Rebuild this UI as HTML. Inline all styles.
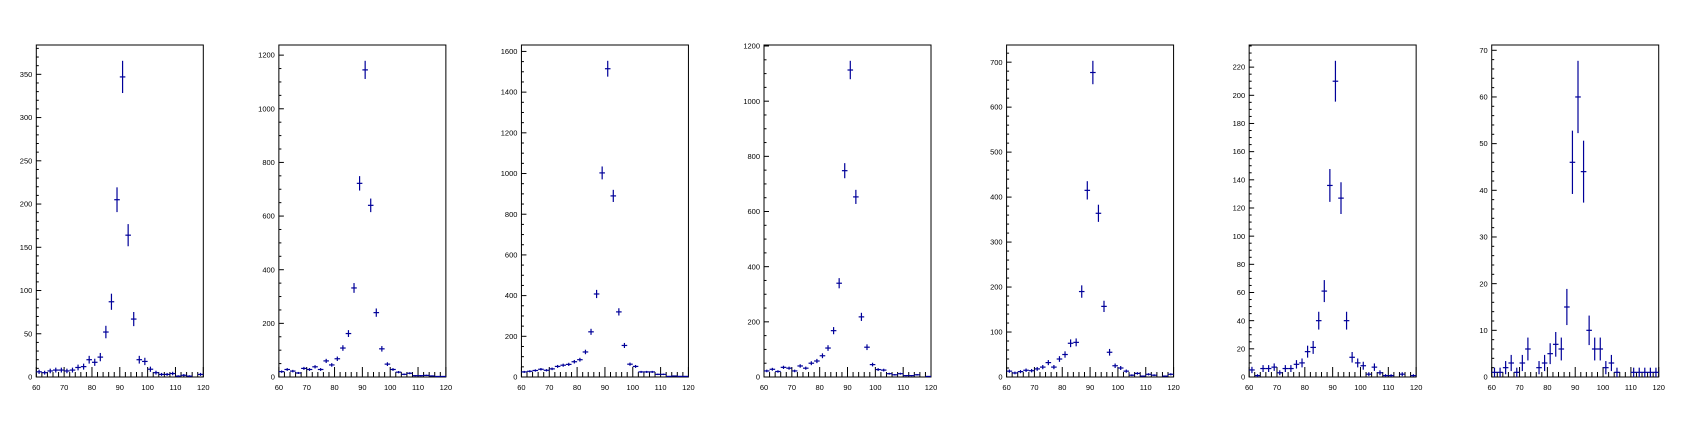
<!DOCTYPE html>
<html><head><meta charset="utf-8"><style>
html,body{margin:0;padding:0;background:#fff;}
svg{display:block;}
text{font-family:"Liberation Sans",sans-serif;font-size:7.5px;fill:#000;}
</style></head><body>
<svg id="c" width="1698" height="424" viewBox="0 0 1698 424"></svg>
<script>
const binCenters=[61,63,65,67,69,71,73,75,77,79,81,83,85,87,89,91,93,95,97,99,101,103,105,107,109,111,113,115,117,119];
const h1=[6,5,7,8,8,7,8,11,12,20,17,23,52,87,205,347,164,67,20,18,9,5,3,3,4,1,2,1,0,3];
const h2=[20,28,22,15,32,28,38,28,60,45,68,108,162,332,722,1145,640,240,105,48,28,18,10,14,5,5,6,4,2,2];
const h3=[25,28,32,38,33,40,52,58,62,75,85,123,222,408,1003,1515,890,320,155,63,52,25,25,25,13,13,3,5,3,3];
const h4=[22,28,20,35,32,22,40,32,50,58,77,105,168,340,748,1113,653,218,108,45,27,25,12,8,12,5,5,8,0,2];
const h5=[13,9,12,15,14,18,22,32,22,40,50,75,77,190,415,677,364,157,55,25,20,13,4,8,2,6,4,0,2,6];
const h6=[5,1,6,6,7,3,6,6,9,10,18,21,40,61,136,210,127,40,14,10,8,2,7,3,1,1,0,2,0,1];
const h7=[1,1,2,3,1,3,6,0,2,3,5,7,6,15,46,60,44,10,6,6,2,3,1,0,0,1,1,1,1,1];
const yMajor=[50,200,200,200,100,20,10];
const yMinorDiv=[5,4,4,4,5,4,5];
const xTickLabels=[60,70,80,90,100,110,120];
const hists=[h1,h2,h3,h4,h5,h6,h7];

const NS="http://www.w3.org/2000/svg";
const svgEl=document.getElementById('c');
function mk(tag,attrs,parent){const e=document.createElementNS(NS,tag);for(const k in attrs)e.setAttribute(k,attrs[k]);parent.appendChild(e);return e;}
const frameTop=45,frameBot=377,W=167,pitch=242.57,x0=36.3;
hists.forEach((h,i)=>{
  const g=mk('g',{},svgEl);
  
  
  const L=x0+i*pitch;
  const mx=Math.max(...h);
  const ymax=(mx+Math.sqrt(mx))*1.05;
  const xs=v=>L+(v-60)/60*W;
  const ys=v=>frameBot-v/ymax*(frameBot-frameTop);
  const fr=mk('rect',{x:L,y:frameTop,width:W,height:frameBot-frameTop,fill:'none',stroke:'#000','stroke-width':1},g);
  
  
  for(let v=60;v<=120;v+=2){
    const maj=(v%10===0);
    mk('line',{x1:xs(v),x2:xs(v),y1:frameBot,y2:frameBot-(maj?10:5),stroke:'#000','stroke-width':1},g);
  }
  xTickLabels.forEach(v=>{
    const t=mk('text',{x:xs(v),y:frameBot+13,'text-anchor':'middle'},g);
    t.textContent=v;
    
    
  });
  const M=yMajor[i],step=M/yMinorDiv[i];
  for(let k=0;k*step<=ymax+1e-9;k++){
    const v=k*step;const maj=(k%yMinorDiv[i]===0);
    mk('line',{x1:L,x2:L+(maj?5:2.5),y1:ys(v),y2:ys(v),stroke:'#000','stroke-width':1},g);
    if(maj){
      const t=mk('text',{x:L-4,y:ys(v)+2.6,'text-anchor':'end'},g);
      t.textContent=v;
      
      
    }
  }
  h.forEach((n,j)=>{
    if(n<=0)return;
    const c=binCenters[j],e=Math.sqrt(n);
    const pg=mk('g',{stroke:'#000099','stroke-width':1.2},g);
    
    
    mk('line',{x1:xs(c-1),x2:xs(c+1),y1:ys(n),y2:ys(n)},pg);
    mk('line',{x1:xs(c),x2:xs(c),y1:ys(Math.min(n+e,ymax)),y2:ys(Math.max(n-e,0))},pg);
  });
});
</script>
</body></html>
